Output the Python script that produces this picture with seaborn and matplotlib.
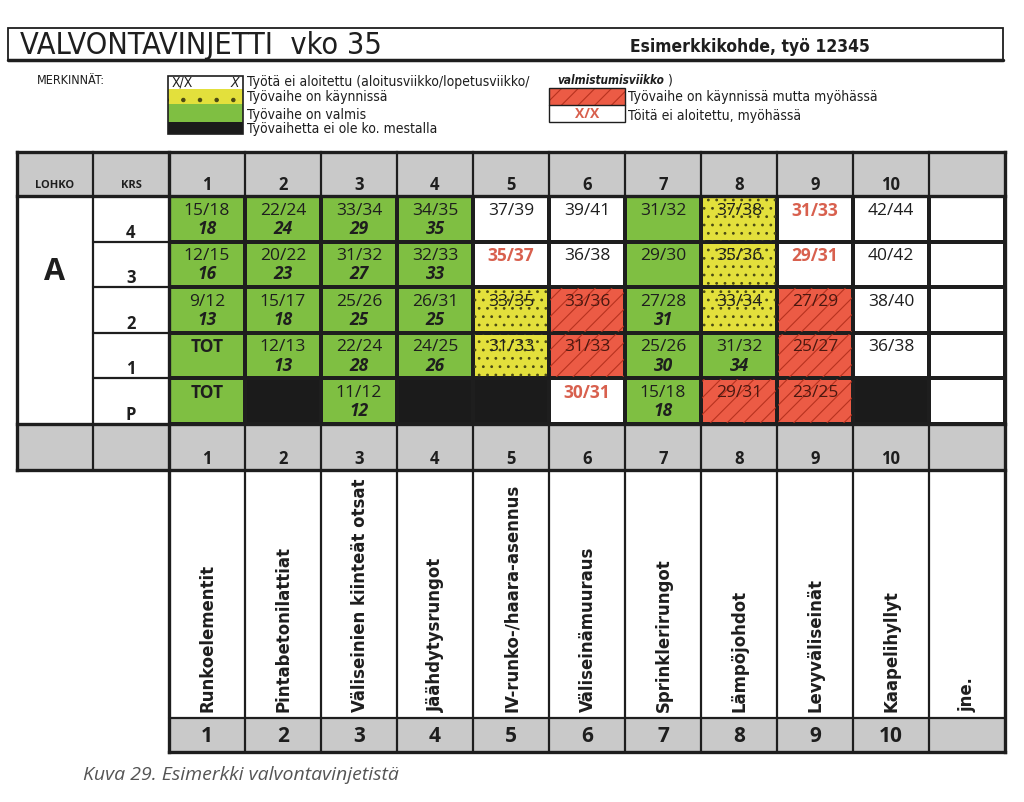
import matplotlib
matplotlib.use('Agg')
import matplotlib.pyplot as plt
import pandas as pd
import seaborn as sns
from matplotlib.colors import ListedColormap
from matplotlib.patches import Rectangle
from matplotlib import font_manager

# Data
floors = ['4', '3', '2', '1', 'P']
phases = ['1', '2', '3', '4', '5', '6', '7', '8', '9', '10', '']
phase_names = ['Runkoelementit', 'Pintabetonilattiat', 'Väliseinien kiinteät otsat',
               'Jäähdytysrungot', 'IV-runko-/haara-asennus', 'Väliseinämuuraus',
               'Sprinklerirungot', 'Lämpöjohdot', 'Levyväliseinät', 'Kaapelihyllyt', 'jne.']
# E = ei aloitettu, M = ei aloitettu myöhässä, K = käynnissä, V = valmis,
# R = käynnissä mutta myöhässä, X = ei ole ko. mestalla
status = [
    ['V', 'V', 'V', 'V', 'E', 'E', 'V', 'K', 'M', 'E', 'E'],
    ['V', 'V', 'V', 'V', 'M', 'E', 'V', 'K', 'M', 'E', 'E'],
    ['V', 'V', 'V', 'V', 'K', 'R', 'V', 'K', 'R', 'E', 'E'],
    ['V', 'V', 'V', 'V', 'K', 'R', 'V', 'V', 'R', 'E', 'E'],
    ['V', 'X', 'V', 'X', 'X', 'M', 'V', 'R', 'R', 'X', 'E'],
]
weeks = [
    ['15/18', '22/24', '33/34', '34/35', '37/39', '39/41', '31/32', '37/38', '31/33', '42/44', ''],
    ['12/15', '20/22', '31/32', '32/33', '35/37', '36/38', '29/30', '35/36', '29/31', '40/42', ''],
    ['9/12', '15/17', '25/26', '26/31', '33/35', '33/36', '27/28', '33/34', '27/29', '38/40', ''],
    ['TOT', '12/13', '22/24', '24/25', '31/33', '31/33', '25/26', '31/32', '25/27', '36/38', ''],
    ['TOT', '', '11/12', '', '', '30/31', '15/18', '29/31', '23/25', '', ''],
]
done_week = [
    ['18', '24', '29', '35', '', '', '', '', '', '', ''],
    ['16', '23', '27', '33', '', '', '', '', '', '', ''],
    ['13', '18', '25', '25', '', '', '31', '', '', '', ''],
    ['', '13', '28', '26', '', '', '30', '34', '', '', ''],
    ['', '', '12', '', '', '', '18', '', '', '', ''],
]

sns.set_theme(style='white')
plt.rcParams['font.family'] = ['Open Sans', 'DejaVu Sans']
plt.rcParams['hatch.linewidth'] = 0.8

# narrow font for the headings (condensed face if one is installed)
entries = {(f.name, f.stretch) for f in font_manager.fontManager.ttflist}
names = {n for n, s in entries}
NARROW = dict(family=['Liberation Sans', 'DejaVu Sans'])
shrink = 0.9
if 'Liberation Sans Narrow' in names:
    NARROW = dict(family=['Liberation Sans Narrow', 'DejaVu Sans'])
    shrink = 1.05
else:
    for fam in ('DejaVu Sans', 'Open Sans', 'Noto Sans', 'Roboto'):
        if (fam, 'condensed') in entries or (fam, 'semi-condensed') in entries:
            NARROW = dict(family=[fam], fontstretch='condensed')
            shrink = 1.0
            break

GREEN, YELLOW, RED, BLACK, GRAY = '#7fbf42', '#e3e03c', '#ec5b45', '#1b1b1b', '#c9c9c9'
LATE = '#d8604e'
INK = '#1e1e1e'

W, H = 1024, 802
fig = plt.figure(figsize=(W / 100, H / 100), dpi=100)

col_x = [17 + 76 * i for i in range(14)]
row_y = [196 + 45.6 * i for i in range(6)]

# status grid as a heatmap
hax = fig.add_axes([col_x[2] / W, 1 - row_y[5] / H, (col_x[13] - col_x[2]) / W, (row_y[5] - row_y[0]) / H], zorder=1)
codes = {'E': 0, 'M': 0, 'K': 1, 'V': 2, 'X': 3, 'R': 4}
grid = pd.DataFrame([[codes[s] for s in row] for row in status], index=floors, columns=phases)
cmap = ListedColormap(['#ffffff', YELLOW, GREEN, BLACK, RED])
sns.heatmap(grid, ax=hax, cmap=cmap, vmin=-0.5, vmax=4.5, cbar=False, linewidths=1.5,
            linecolor=INK, xticklabels=False, yticklabels=False)
hax.set_xlabel('')
hax.set_ylabel('')

for r, row in enumerate(status):
    for c, s in enumerate(row):
        if s == 'K':
            hax.add_patch(Rectangle((c, r), 1, 1, fill=False, hatch='..', edgecolor='#4a4a14', lw=0))
        elif s == 'R':
            hax.add_patch(Rectangle((c, r), 1, 1, fill=False, hatch='//', edgecolor='#b8321f', lw=0))
        txt = weeks[r][c]
        if txt:
            color = LATE if s == 'M' else ('#4a1810' if s == 'R' else INK)
            weight = 'bold' if s == 'M' or txt == 'TOT' else 'normal'
            hax.text(c + 0.5, r + 0.32, txt, ha='center', va='center', fontsize=12.5,
                     color=color, fontweight=weight)
        if done_week[r][c]:
            hax.text(c + 0.5, r + 0.72, done_week[r][c], ha='center', va='center', fontsize=12.5,
                     fontweight='bold', fontstyle='italic', color=INK)

# page overlay in pixel coordinates
bg = fig.add_axes([0, 0, 1, 1], zorder=2)
bg.set_xlim(0, W)
bg.set_ylim(H, 0)
bg.axis('off')

# title box
bg.add_patch(Rectangle((8, 28), 995, 32, fill=False, lw=1.3, edgecolor=INK))
bg.plot([8, 1003], [60, 60], color=INK, lw=2.5)
bg.text(20, 45, 'VALVONTAVINJETTI  vko 35', fontsize=22 * shrink, va='center', color=INK, **NARROW)
bg.text(630, 47, 'Esimerkkikohde, työ 12345', fontsize=12.5 * shrink, fontweight='bold',
        va='center', color=INK, **NARROW)

# legend
fs = 10 * shrink
bg.text(37, 80, 'MERKINNÄT:', fontsize=9 * shrink, va='center', color=INK, **NARROW)
bg.add_patch(Rectangle((168, 76), 75, 13, facecolor='white', lw=0))
bg.add_patch(Rectangle((168, 89), 75, 15, facecolor=YELLOW, hatch='.', edgecolor='#4a4a14', lw=0))
bg.add_patch(Rectangle((168, 104), 75, 18, facecolor=GREEN, lw=0))
bg.add_patch(Rectangle((168, 122), 75, 12, facecolor=BLACK, lw=0))
bg.add_patch(Rectangle((168, 76), 75, 58, fill=False, edgecolor=INK, lw=1.2))
bg.text(172, 83, 'X/X', fontsize=fs, va='center', color=INK, **NARROW)
bg.text(239, 83, 'X', fontsize=fs, fontstyle='italic', ha='right', va='center', color=INK, **NARROW)
bg.text(247, 82, 'Työtä ei aloitettu (aloitusviikko/lopetusviikko/', fontsize=fs, va='center', color=INK, **NARROW)
bg.text(557, 80, 'valmistumisviikko', fontsize=8.5 * shrink, fontweight='bold', fontstyle='italic',
        va='center', color=INK, **NARROW)
bg.text(668, 80, ')', fontsize=fs, va='center', color=INK, **NARROW)
bg.text(247, 97, 'Työvaihe on käynnissä', fontsize=fs, va='center', color=INK, **NARROW)
bg.text(247, 115, 'Työvaihe on valmis', fontsize=fs, va='center', color=INK, **NARROW)
bg.text(247, 129, 'Työvaihetta ei ole ko. mestalla', fontsize=fs, va='center', color=INK, **NARROW)

bg.add_patch(Rectangle((549, 88), 76, 17, facecolor=RED, hatch='//', edgecolor='#b8321f', lw=0))
bg.add_patch(Rectangle((549, 88), 76, 34, fill=False, edgecolor=INK, lw=1.0))
bg.plot([549, 625], [105, 105], color=INK, lw=1.0)
bg.text(587, 114, 'X/X', fontsize=10, fontweight='bold', color=LATE, ha='center', va='center')
bg.text(628, 97, 'Työvaihe on käynnissä mutta myöhässä', fontsize=fs, va='center', color=INK, **NARROW)
bg.text(628, 116, 'Töitä ei aloitettu, myöhässä', fontsize=fs, va='center', color=INK, **NARROW)

# gray bands
bg.add_patch(Rectangle((col_x[0], 152), col_x[13] - col_x[0], 44, facecolor=GRAY, lw=0, zorder=0))
bg.add_patch(Rectangle((col_x[0], 424), col_x[13] - col_x[0], 46, facecolor=GRAY, lw=0, zorder=0))
bg.add_patch(Rectangle((col_x[2], 718), col_x[13] - col_x[2], 34, facecolor=GRAY, lw=0, zorder=0))

# grid lines
for i, x in enumerate(col_x):
    bottom = 752 if i >= 2 else 470
    lw = 2.4 if i in (0, 2, 13) else 1.6
    bg.plot([x, x], [152, bottom], color=INK, lw=lw, solid_capstyle='projecting')
for y in (152, 196, 424, 470):
    bg.plot([col_x[0], col_x[13]], [y, y], color=INK, lw=2.4, solid_capstyle='projecting')
for y in row_y[1:5]:
    bg.plot([col_x[1], col_x[13]], [y, y], color=INK, lw=1.6)
bg.plot([col_x[2], col_x[13]], [718, 718], color=INK, lw=1.6)
bg.plot([col_x[2], col_x[13]], [752, 752], color=INK, lw=2.4, solid_capstyle='projecting')

# headers
bg.text((col_x[0] + col_x[1]) / 2, 186, 'LOHKO', fontsize=8, fontweight='bold', ha='center', va='center', color=INK)
bg.text((col_x[1] + col_x[2]) / 2, 186, 'KRS', fontsize=8, fontweight='bold', ha='center', va='center', color=INK)
bg.text((col_x[0] + col_x[1]) / 2, 272, 'A', fontsize=22, fontweight='bold', ha='center', va='center', color=INK)
for r, f in enumerate(floors):
    bg.text((col_x[1] + col_x[2]) / 2, row_y[r + 1] - 9, f, fontsize=12, fontweight='bold',
            ha='center', va='center', color=INK)
for c, p in enumerate(phases):
    cx = (col_x[c + 2] + col_x[c + 3]) / 2
    bg.text(cx, 185, p, fontsize=12, fontweight='bold', ha='center', va='center', color=INK)
    bg.text(cx, 459, p, fontsize=12, fontweight='bold', ha='center', va='center', color=INK)
    bg.text(cx, 736, p, fontsize=15, fontweight='bold', ha='center', va='center', color=INK)
    bg.text(cx + 1, 712, phase_names[c], fontsize=13.2 * shrink, fontweight='bold', rotation=90,
            ha='center', va='bottom', color=INK, **NARROW)

bg.text(83, 775, 'Kuva 29. Esimerkki valvontavinjetistä', fontsize=14, fontstyle='italic',
        va='center', color='#555555')

fig.savefig('out.png', dpi=100, facecolor='white')
